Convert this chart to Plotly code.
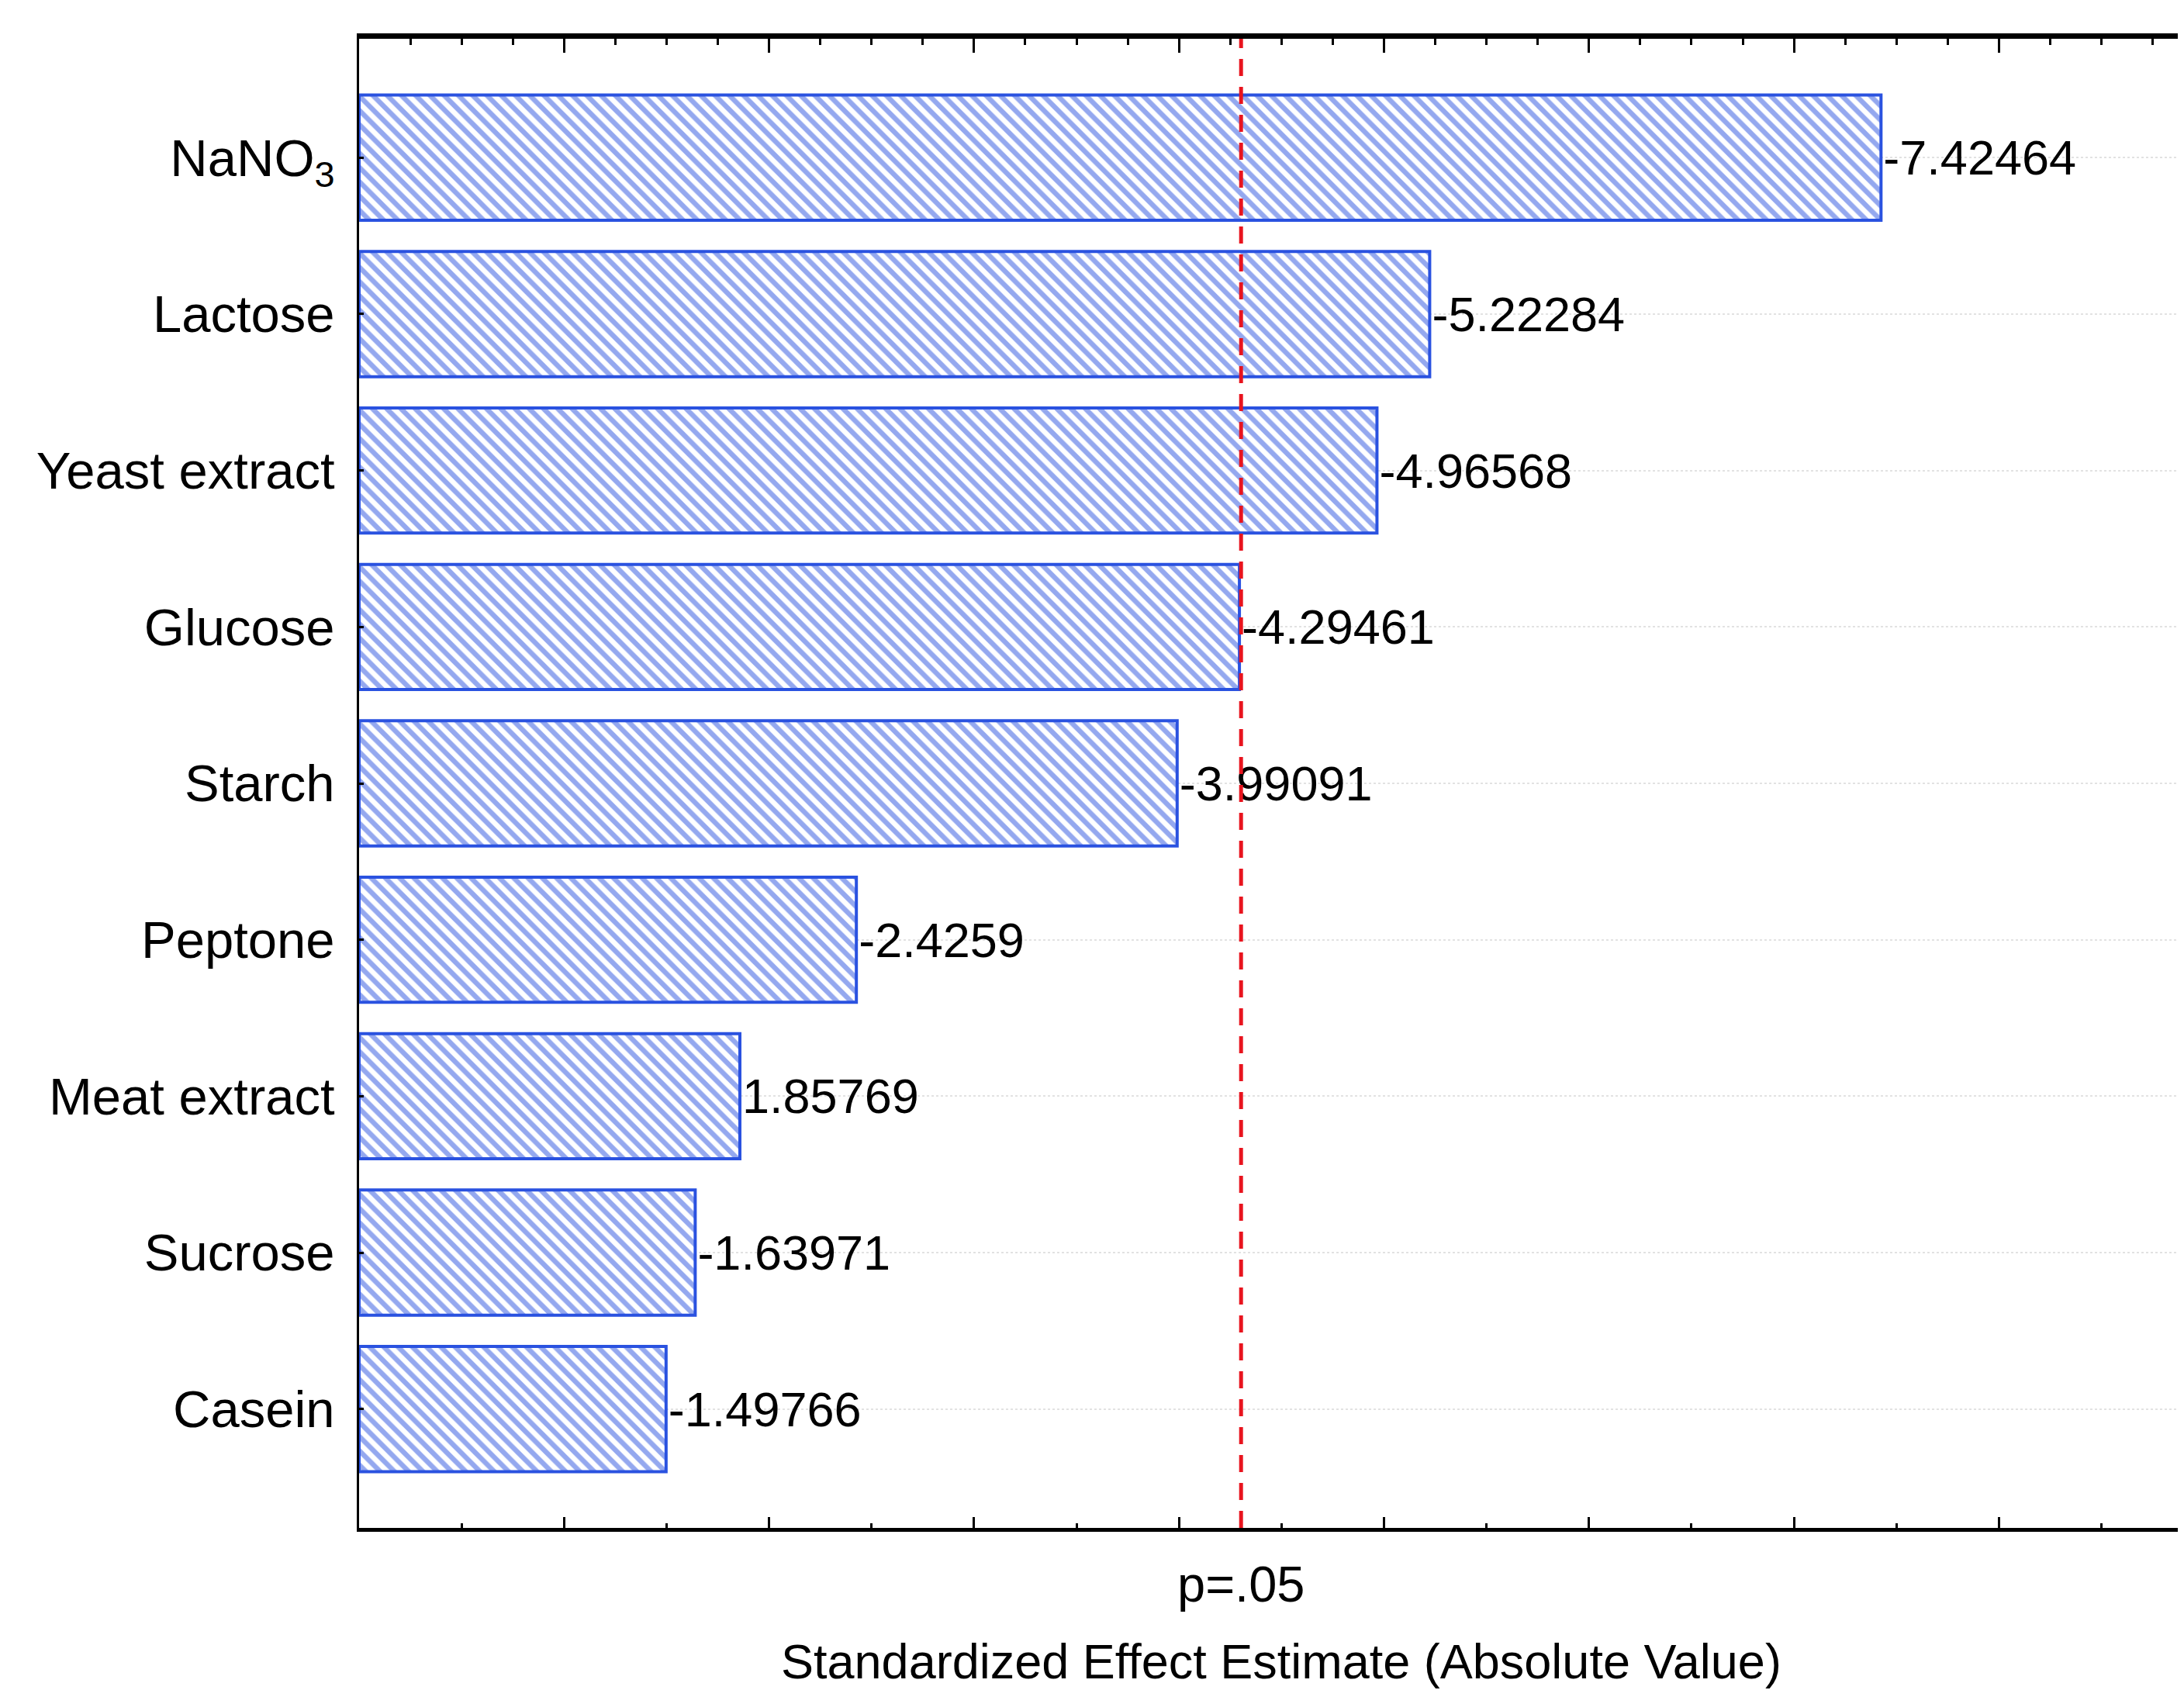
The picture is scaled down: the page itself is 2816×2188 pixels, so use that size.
import plotly.graph_objects as go

# ---- data ----
factors = ["NaNO<sub>3</sub>", "Lactose", "Yeast extract", "Glucose", "Starch",
           "Peptone", "Meat extract", "Sucrose", "Casein"]
effects = [-7.42464, -5.22284, -4.96568, -4.29461, -3.99091,
           -2.4259, 1.85769, -1.63971, -1.49766]
effect_labels = ["-7.42464", "-5.22284", "-4.96568", "-4.29461", "-3.99091",
                 "-2.4259", "1.85769", "-1.63971", "-1.49766"]
p_crit = 4.3027          # t critical value, p = .05
p_label = "p=.05"
x_title = "Standardized Effect Estimate (Absolute Value)"

abs_effects = [abs(v) for v in effects]

OFF = 8                      # page body margin
W, H = 2816 - 2 * OFF, 2188 - 2 * OFF
ML, MT = 463 - OFF, 50 - OFF
BOTTOM = 1970 - OFF          # bottom axis position in figure px
MB, MR = H - BOTTOM, 0
FONT = "Liberation Sans, Arial, sans-serif"
BLUE = "#2a52e0"

fig = go.Figure()
fig.add_trace(go.Bar(
    x=abs_effects, y=factors, orientation="h",
    text=effect_labels, textposition="outside", constraintext="none",
    cliponaxis=False,
    textfont=dict(family=FONT, size=63, color="black"),
    marker=dict(color="white",
                line=dict(color=BLUE, width=4),
                pattern=dict(shape="\\", fgcolor=BLUE, bgcolor="white",
                             size=13, solidity=0.5, fillmode="overlay")),
    showlegend=False, hoverinfo="skip",
))
# invisible trace that carries the top (frame) axis
fig.add_trace(go.Scatter(x=[abs_effects[0]], y=[factors[0]], xaxis="x2", mode="markers",
                         marker=dict(opacity=0), showlegend=False, hoverinfo="skip"))

plot_w = W - ML - MR
plot_h = H - MT - MB
px_per_unit = 264.3
x_max = plot_w / px_per_unit

fig.add_shape(type="line", xref="x", yref="paper", x0=p_crit, x1=p_crit, y0=0, y1=1,
              line=dict(color="#e8141e", width=5, dash="22px,14px"), layer="above")

fig.add_annotation(x=p_crit, xref="x", y=-(2042 - 1970) / plot_h, yref="paper",
                   text=p_label, showarrow=False, xanchor="center", yanchor="middle",
                   font=dict(family=FONT, size=65, color="black"))
fig.add_annotation(x=(1652 - 463) / plot_w, xref="paper", y=-(2142 - 1970) / plot_h, yref="paper",
                   text=x_title, showarrow=False, xanchor="center", yanchor="middle",
                   font=dict(family=FONT, size=63, color="black"))

fig.update_layout(
    width=W, height=H,
    margin=dict(l=ML, r=MR, t=MT, b=MB, pad=0),
    paper_bgcolor="white", plot_bgcolor="white",
    bargap=0.2,
    font=dict(family=FONT, size=64, color="black"),
    xaxis=dict(range=[0, x_max], showgrid=False, zeroline=False,
               showline=True, linecolor="black", linewidth=5,
               ticks="inside", dtick=1, tick0=0, ticklen=14, tickwidth=3, tickcolor="black",
               showticklabels=False,
               minor=dict(dtick=0.5, ticks="inside", ticklen=6, tickwidth=3, tickcolor="black")),
    xaxis2=dict(overlaying="x", side="top", anchor="y", matches="x", range=[0, x_max],
                showgrid=False, zeroline=False,
                showline=True, linecolor="black", linewidth=7,
                ticks="inside", dtick=1, tick0=0, ticklen=18, tickwidth=3, tickcolor="black",
                showticklabels=False,
                minor=dict(dtick=0.25, ticks="inside", ticklen=8, tickwidth=3, tickcolor="black")),
    yaxis=dict(categoryorder="array", categoryarray=factors,
               range=[len(factors) - 1 + 0.76, -0.76],
               showline=True, linecolor="black", linewidth=3,
               ticks="inside", ticklen=6, tickwidth=3, tickcolor="black",
               showgrid=True, gridcolor="#e2e2e2", gridwidth=2, griddash="dot",
               zeroline=False, ticklabelstandoff=15,
               tickfont=dict(family=FONT, size=67, color="black")),
)

fig.write_html("out.html")
